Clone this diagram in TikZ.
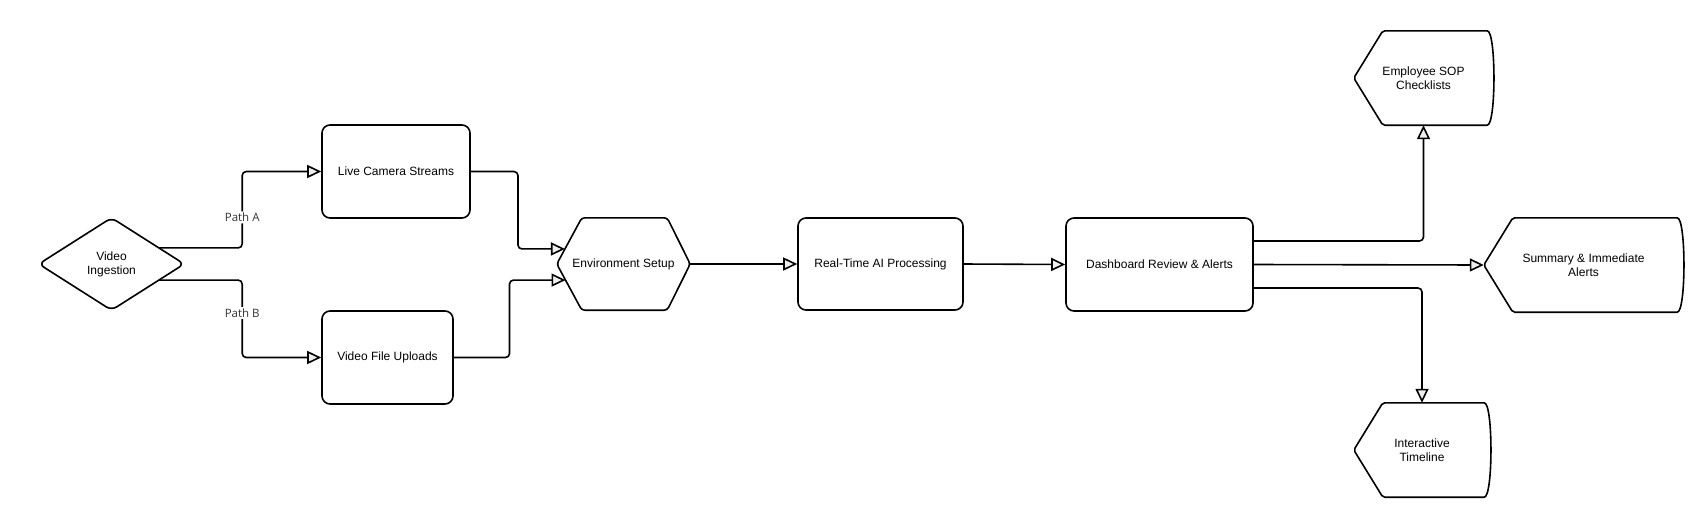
\documentclass[tikz,border=0pt]{standalone}
\usepackage{fontspec}
\setmainfont{Liberation Sans}
\newfontfamily\lblfont{Open Sans}
\usetikzlibrary{arrows.meta,calc}
\definecolor{tipfill}{HTML}{EEEEEE}
\definecolor{lblcol}{HTML}{333333}
\begin{document}
\begin{tikzpicture}[x=1pt,y=-1pt,
  every node/.style={font=\fontsize{12}{14}\selectfont, align=center, inner sep=0pt},
  proc/.style={draw, line width=1.6pt, rounded corners=8pt, minimum height=93pt},
  holder/.style={draw=none, minimum height=94pt},
  shp/.style={draw, line width=1.6pt, line join=round},
  conn/.style={draw, line width=1.6pt, rounded corners=4pt,
    -{Triangle[length=14pt,width=13pt,fill=tipfill]}},
  lbl/.style={font=\lblfont\fontsize{11.5}{13}\selectfont, text=lblcol, fill=white, inner sep=1.5pt}
]
\useasboundingbox (0,0) rectangle (1692,523);

% nodes
\node[holder, minimum width=145pt, minimum height=92pt] (vi) at (111.5,264) {Video\\Ingestion};
\draw[shp, rounded corners=6pt] (vi.west) -- (vi.north) -- (vi.east) -- (vi.south) -- cycle;

\node[proc, minimum width=148pt] (lcs) at (396,171.5) {Live Camera Streams};
\node[proc, minimum width=131pt] (vfu) at (387.5,357.5) {Video File Uploads};

\node[holder, minimum width=133pt, minimum height=92pt] (env) at (623.5,264) {Environment Setup};
\draw[shp, rounded corners=3pt] (env.west) -- ([xshift=25pt]env.north west) -- ([xshift=-23pt]env.north east)
  -- (env.east) -- ([xshift=-23pt]env.south east) -- ([xshift=25pt]env.south west) -- cycle;

\node[proc, minimum width=165pt, minimum height=92pt] (rt) at (880.5,264) {Real-Time AI Processing};
\node[proc, minimum width=187pt] (dash) at (1159.5,264.5) {Dashboard Review \& Alerts};

\node[holder, minimum width=139pt] (emp) at (1423.5,78) {Employee SOP\\Checklists};
\node[holder, minimum width=199pt] (sum) at (1583.5,265) {Summary \& Immediate\\Alerts};
\node[holder, minimum width=136pt] (it) at (1422,450) {Interactive\\Timeline};

\foreach \n in {emp,sum,it}{
  \draw[shp, rounded corners=2pt] (\n.west) -- ([xshift=29pt]\n.north west) -- ([xshift=-8pt]\n.north east)
    .. controls ([xshift=3pt]\n.north east) and ([xshift=3pt]\n.south east) .. ([xshift=-8pt]\n.south east)
    -- ([xshift=29pt]\n.south west) -- cycle;
}

% boundary coordinates
\coordinate (pa) at ($(vi.north)!0.652!(vi.east)$);
\coordinate (pb) at ($(vi.east)!0.348!(vi.south)$);
\coordinate (e1) at ($(env.west)!0.326!([xshift=25pt]env.north west)$);
\coordinate (e2) at ($(env.west)!0.348!([xshift=25pt]env.south west)$);

% connectors
\draw[conn] (pa) -| ([xshift=-79pt]lcs.west) node[lbl, pos=0.70] {Path A} -- (lcs.west);
\draw[conn] (pb) -| ([xshift=-79pt]vfu.west) node[lbl, pos=0.713] {Path B} -- (vfu.west);
\draw[conn] (lcs.east) -| ([xshift=-47pt]e1) -- (e1);
\draw[conn] (vfu.east) -| ([xshift=-56pt]e2) -- (e2);
\draw[conn] (env.east) -- (rt.west);
\draw[conn] (rt.east) -- (dash.west);
\draw[conn] ([yshift=23.5pt]dash.east) -| (emp.south);
\draw[conn] (dash.east) -- (sum.west);
\draw[conn] ([yshift=-23.5pt]dash.east) -| (it.north);
\end{tikzpicture}
\end{document}
